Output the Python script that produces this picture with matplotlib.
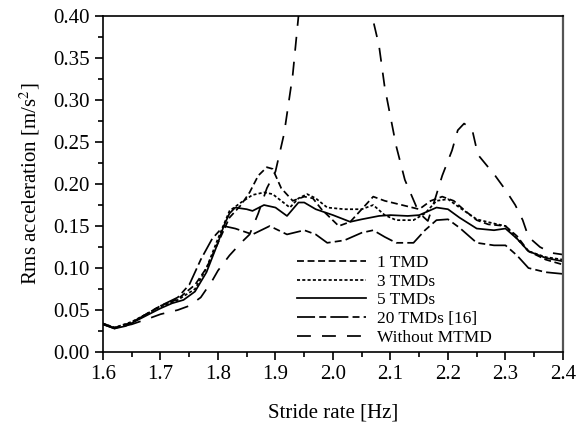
import numpy as np
import matplotlib
matplotlib.use("Agg")
import matplotlib.pyplot as plt

plt.rcParams['font.family'] = ['Liberation Serif', 'DejaVu Serif']
plt.rcParams['lines.scale_dashes'] = False
plt.rcParams['mathtext.fontset'] = 'stix'

# stride rate [Hz] and rms acceleration [m/s2] for each damper layout
f_1tmd = [1.60, 1.62, 1.65, 1.70, 1.73, 1.76, 1.78, 1.80, 1.82, 1.84, 1.855, 1.87, 1.885,
          1.895, 1.91, 1.93, 1.95, 1.965, 1.98, 1.995, 2.01, 2.03, 2.05, 2.07, 2.09, 2.12,
          2.15, 2.17, 2.19, 2.21, 2.23, 2.25, 2.27, 2.30, 2.32, 2.34, 2.37, 2.40]
a_1tmd = [0.034, 0.029, 0.035, 0.055, 0.063, 0.080, 0.100, 0.130, 0.160, 0.175, 0.190, 0.210, 0.220,
          0.218, 0.195, 0.180, 0.185, 0.183, 0.170, 0.160, 0.150, 0.155, 0.170, 0.185, 0.180, 0.175,
          0.170, 0.180, 0.185, 0.180, 0.168, 0.157, 0.152, 0.150, 0.138, 0.120, 0.110, 0.104]

f_3tmd = [1.60, 1.62, 1.65, 1.70, 1.73, 1.76, 1.78, 1.80, 1.82, 1.84, 1.86, 1.88, 1.895,
          1.91, 1.925, 1.94, 1.955, 1.97, 1.99, 2.02, 2.05, 2.07, 2.09, 2.11, 2.14, 2.16,
          2.18, 2.20, 2.22, 2.25, 2.28, 2.30, 2.32, 2.34, 2.37, 2.40]
a_3tmd = [0.034, 0.029, 0.036, 0.054, 0.062, 0.075, 0.100, 0.135, 0.168, 0.178, 0.187, 0.190, 0.188,
          0.180, 0.172, 0.183, 0.188, 0.183, 0.172, 0.170, 0.170, 0.175, 0.163, 0.157, 0.157, 0.165,
          0.180, 0.182, 0.172, 0.158, 0.153, 0.150, 0.135, 0.120, 0.113, 0.110]

f_5tmd = [1.60, 1.62, 1.64, 1.66, 1.68, 1.70, 1.72, 1.74, 1.76, 1.78, 1.80, 1.81, 1.82,
          1.83, 1.85, 1.86, 1.88, 1.90, 1.92, 1.94, 1.95, 1.97, 2.00, 2.03, 2.05, 2.08,
          2.10, 2.13, 2.15, 2.18, 2.20, 2.22, 2.25, 2.28, 2.30, 2.32, 2.34, 2.37, 2.40]
a_5tmd = [0.033, 0.028, 0.031, 0.038, 0.045, 0.052, 0.058, 0.062, 0.072, 0.095, 0.130, 0.150, 0.165,
          0.172, 0.170, 0.168, 0.175, 0.172, 0.162, 0.178, 0.178, 0.170, 0.163, 0.155, 0.158, 0.162,
          0.163, 0.162, 0.163, 0.172, 0.170, 0.160, 0.147, 0.145, 0.147, 0.135, 0.120, 0.112, 0.108]

f_20tmd = [1.60, 1.62, 1.65, 1.70, 1.73, 1.75, 1.77, 1.79, 1.81, 1.83, 1.86, 1.89, 1.92,
           1.95, 1.97, 1.99, 2.02, 2.05, 2.07, 2.09, 2.11, 2.14, 2.16, 2.18, 2.20, 2.22,
           2.25, 2.28, 2.30, 2.32, 2.34, 2.37, 2.40]
a_20tmd = [0.033, 0.028, 0.035, 0.055, 0.065, 0.080, 0.110, 0.135, 0.150, 0.147, 0.140, 0.150, 0.140,
           0.145, 0.140, 0.130, 0.133, 0.142, 0.145, 0.137, 0.130, 0.130, 0.145, 0.157, 0.158, 0.148,
           0.130, 0.127, 0.127, 0.115, 0.100, 0.095, 0.093]

f_none = [1.60, 1.62, 1.65, 1.68, 1.70, 1.73, 1.75, 1.77, 1.79, 1.80, 1.82, 1.84, 1.855,
          1.87, 1.885, 1.90, 1.915, 1.93, 1.94, 1.96, 2.00, 2.04, 2.068, 2.08, 2.09, 2.10,
          2.11, 2.125, 2.145, 2.157, 2.165, 2.177, 2.19, 2.207, 2.217, 2.228, 2.242, 2.252,
          2.264, 2.282, 2.30, 2.317, 2.33, 2.34, 2.36, 2.38, 2.40]
a_none = [0.033, 0.029, 0.033, 0.040, 0.045, 0.050, 0.055, 0.065, 0.085, 0.097, 0.115, 0.130, 0.140,
          0.165, 0.195, 0.215, 0.260, 0.330, 0.400, 0.500, 0.580, 0.500, 0.400, 0.365, 0.315, 0.280,
          0.245, 0.205, 0.173, 0.161, 0.156, 0.181, 0.210, 0.240, 0.264, 0.272, 0.265, 0.235,
          0.225, 0.210, 0.193, 0.175, 0.157, 0.137, 0.125, 0.118, 0.116]

labels = ['1 TMD', '3 TMDs', '5 TMDs', '20 TMDs [16]', 'Without MTMD']

fig = plt.figure(figsize=(5.77, 4.33), dpi=100)
ax = fig.add_axes([0.1785, 0.187, 0.7972, 0.776])

lw = 1.25
ax.plot(f_1tmd, a_1tmd, color='black', lw=lw, dashes=(5, 2.6), label=labels[0])
ax.plot(f_3tmd, a_3tmd, color='black', lw=lw, dashes=(2.2, 1.6), label=labels[1])
ax.plot(f_5tmd, a_5tmd, color='black', lw=lw, label=labels[2])
ax.plot(f_20tmd, a_20tmd, color='black', lw=lw, dashes=(13, 3, 5, 3), label=labels[3])
ax.plot(f_none, a_none, color='black', lw=lw, dashes=(10, 8), label=labels[4])

ax.set_xlim(1.6, 2.4)
ax.set_ylim(0.0, 0.40)
ax.set_xticks(np.arange(1.6, 2.41, 0.1))
ax.set_xticks(np.arange(1.65, 2.4, 0.1), minor=True)
ax.set_yticks(np.arange(0.0, 0.401, 0.05))
ax.set_yticks(np.arange(0.025, 0.4, 0.05), minor=True)
ax.xaxis.set_major_formatter(plt.FormatStrFormatter('%.1f'))
ax.yaxis.set_major_formatter(plt.FormatStrFormatter('%.2f'))
ax.tick_params(which='both', direction='out', labelsize=15, width=1.2)
ax.tick_params(which='major', length=6)
ax.tick_params(which='minor', length=3.5)
for s in ax.spines.values():
    s.set_linewidth(1.2)
ax.spines['right'].set_color('#555555')
ax.spines['right'].set_linewidth(1.6)

ax.set_xlabel('Stride rate [Hz]', fontsize=15, labelpad=14)
ax.set_ylabel('Rms acceleration [m/s$^2$]', fontsize=15, labelpad=8)

ax.legend(loc='lower left', bbox_to_anchor=(0.395, -0.018), frameon=False, fontsize=12.5,
          handlelength=4.0, handletextpad=0.6, labelspacing=0.15, borderaxespad=0.3)

fig.savefig('out.png', dpi=100)
